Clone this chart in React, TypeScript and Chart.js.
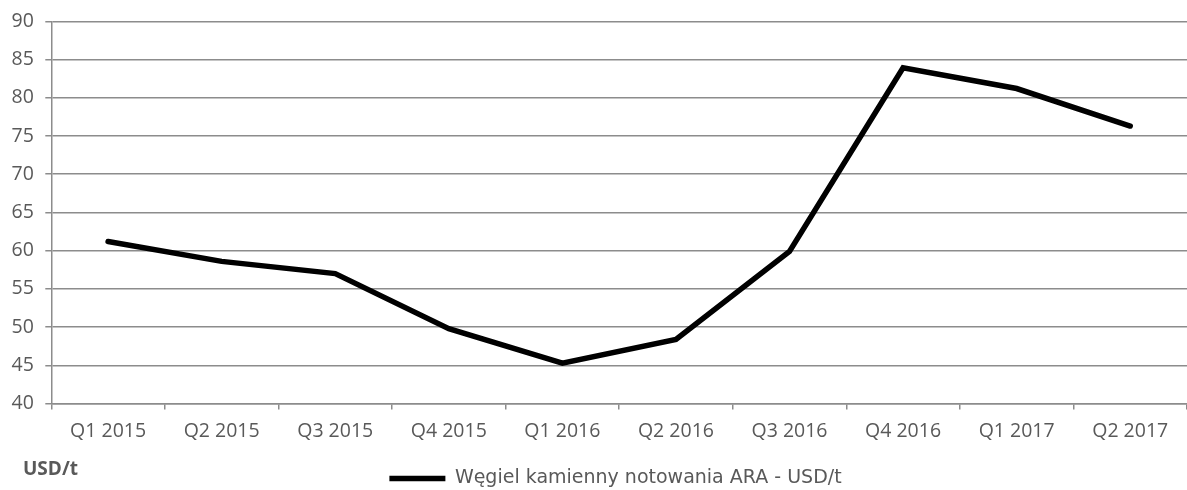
import React, { useEffect, useRef } from "react";
import { Chart, registerables } from "chart.js";

Chart.register(...registerables);

const categories = ["Q1 2015", "Q2 2015", "Q3 2015", "Q4 2015", "Q1 2016", "Q2 2016", "Q3 2016", "Q4 2016", "Q1 2017", "Q2 2017"];
const values = [61.2, 58.6, 57.0, 49.8, 45.3, 48.4, 59.9, 83.9, 81.2, 76.3];
const seriesName = "Węgiel kamienny notowania ARA - USD/t";
const unitLabel = "USD/t";
const yMin = 40;
const yMax = 90;
const yStep = 5;

const legendShift = {
  id: "legendShift",
  afterLayout(chart: any) {
    const lg = chart.legend;
    if (lg) {
      lg.left += 22;
      lg.right += 22;
      lg.top += 8;
      lg.bottom += 8;
    }
  },
};

export default function App() {
  const ref = useRef<HTMLCanvasElement>(null);
  useEffect(() => {
    document.body.style.margin = "0";
    const ctx = ref.current!;
    const chart = new Chart(ctx, {
      type: "line",
      data: {
        labels: categories,
        datasets: [
          {
            label: seriesName,
            data: values,
            borderColor: "#000000",
            backgroundColor: "#000000",
            borderWidth: 5.5,
            borderCapStyle: "round",
            borderJoinStyle: "miter",
            pointRadius: 0,
            tension: 0,
          },
        ],
      },
      plugins: [legendShift],
      options: {
        responsive: false,
        animation: false,
        layout: { padding: { left: 0, right: 0, top: 1, bottom: 0 } },
        plugins: {
          legend: {
            position: "bottom",
            labels: {
              usePointStyle: true,
              pointStyle: "line",
              pointStyleWidth: 56,
              boxHeight: 4,
              padding: 8,
              color: "#595959",
              font: { family: "'DejaVu Sans', sans-serif", size: 19 },
            },
          },
          tooltip: { enabled: false },
        },
        scales: {
          x: {
            offset: true,
            grid: {
              display: true,
              offset: true,
              drawOnChartArea: false,
              drawTicks: true,
              tickLength: 6,
              color: "#8c8c8c",
              lineWidth: 1.5,
            },
            border: { display: true, color: "#8c8c8c", width: 1.5 },
            ticks: {
              color: "#595959",
              font: { family: "'Open Sans', sans-serif", size: 19.5 },
              maxRotation: 0,
              padding: 10,
            },
          },
          y: {
            min: yMin,
            max: yMax,
            grid: {
              color: "#8c8c8c",
              lineWidth: 1.5,
              drawTicks: true,
              tickLength: 6,
            },
            border: { display: true, color: "#8c8c8c", width: 1.5 },
            ticks: {
              stepSize: yStep,
              color: "#595959",
              font: { family: "'Open Sans', sans-serif", size: 19.5, lineHeight: 1 },
              padding: 11.5,
            },
          },
        },
      },
    });
    return () => chart.destroy();
  }, []);
  return (
    <div style={{ position: "relative", width: 1187, height: 490 }}>
      <canvas ref={ref} width={1187} height={490} />
      <div
        style={{
          position: "absolute",
          left: 23,
          top: 455,
          fontFamily: "'Open Sans', sans-serif",
          fontWeight: "bold",
          fontSize: 19,
          color: "#595959",
        }}
      >
        {unitLabel}
      </div>
    </div>
  );
}
